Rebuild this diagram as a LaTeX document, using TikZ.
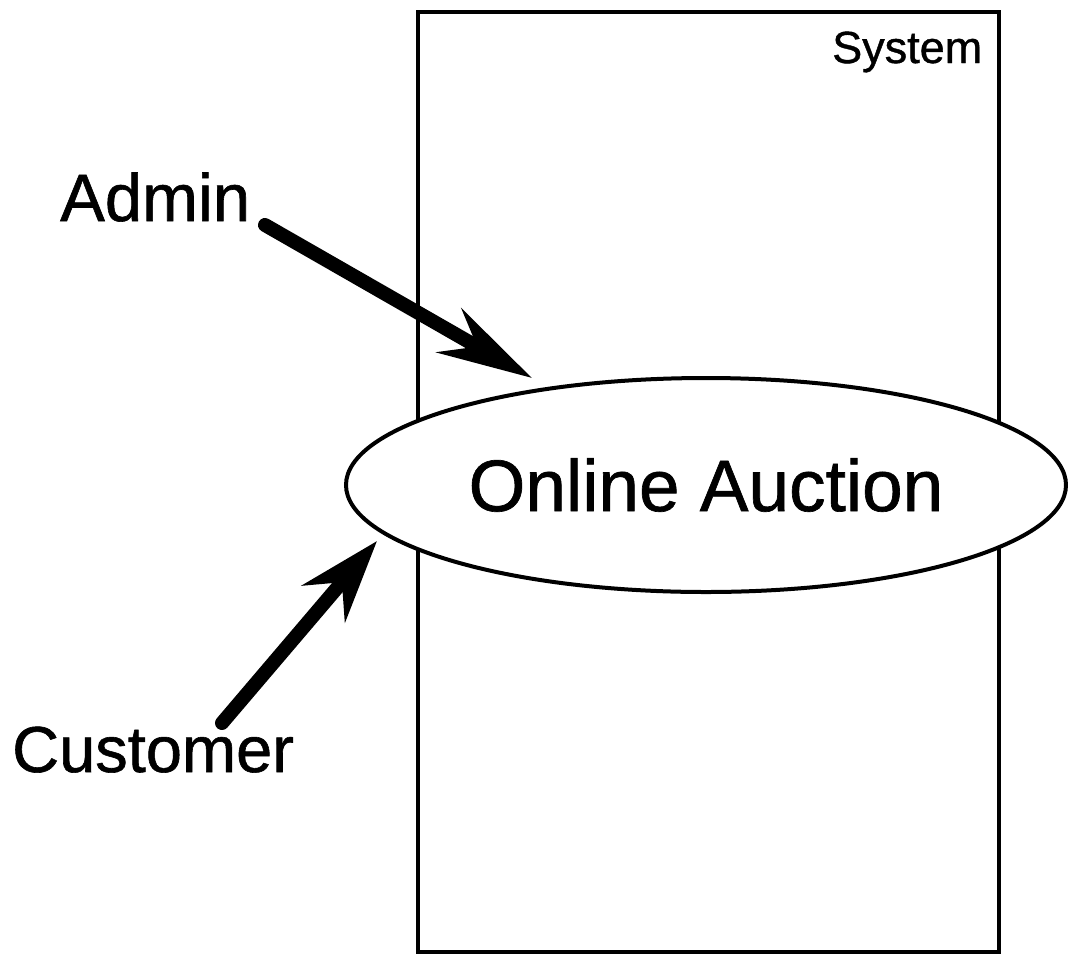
\documentclass[tikz,border=0pt]{standalone}
\usepackage{fontspec}
\setmainfont[FakeBold=0.9]{Liberation Sans}
\usetikzlibrary{shapes.geometric,arrows.meta}

\tikzset{
  frame/.style={draw=black, line width=4pt},
  usecase/.style={ellipse, draw=black, fill=white, line width=4pt,
    minimum width=720pt, minimum height=214pt, inner sep=0pt},
  actor/.style={anchor=base west, inner sep=0pt},
  assoc/.style={line width=14pt, line cap=round},
}

\begin{document}
\begin{tikzpicture}[x=1pt,y=-1pt]
  \useasboundingbox (0,0) rectangle (1068,954);

  % system boundary
  \draw[frame] (418,12) rectangle (999,952);
  \node[anchor=base west, inner sep=0pt, font=\fontsize{45}{54}\selectfont] (system) at (832,63) {System};

  % the use case
  \node[usecase, font=\fontsize{73}{88}\selectfont] (auction) at (706,485) {Online Auction};

  % actors
  \node[actor, font=\fontsize{67}{80}\selectfont] (admin) at (60,221) {Admin};
  \node[actor, font=\fontsize{65}{78}\selectfont] (customer) at (12,772) {Customer};

  % association ends
  \coordinate (admin-tail) at (265,225);
  \coordinate (admin-tip) at (532,378);
  \coordinate (customer-tail) at (222,723);
  \coordinate (customer-tip) at (377,541);

  \draw[assoc, -{Stealth[length=95pt, width=50pt, inset=32pt]}] (admin-tail) -- (admin-tip);
  \draw[assoc, -{Stealth[length=82pt, width=56pt, inset=28pt]}] (customer-tail) -- (customer-tip);
\end{tikzpicture}
\end{document}
